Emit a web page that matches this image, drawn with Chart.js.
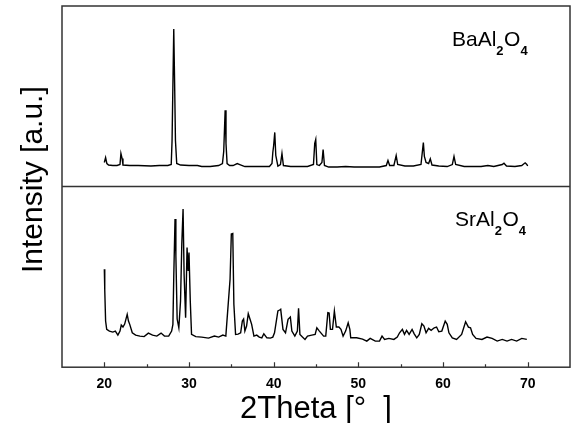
<!DOCTYPE html>
<html>
<head>
<meta charset="utf-8">
<script src="https://cdn.jsdelivr.net/npm/chart.js@4"></script>
<style>
  body { margin: 0; background: #fff; }
  canvas { display: block; }
</style>
</head>
<body>
<canvas id="xrd" width="573" height="423"></canvas>
<script>
// 2Theta positions / intensities (a.u.)
const baTheta = [20.0, 20.15, 20.3, 20.5, 21.0, 21.5, 21.85, 21.96, 22.1, 22.2, 23.0, 24.0, 25.5, 26.5, 27.5, 27.9,
  28.0, 28.2, 28.3, 28.4, 28.55, 29.0, 30.0, 31.0, 31.5, 32.5, 33.5, 33.95, 34.1, 34.27, 34.37, 34.5, 34.8, 35.2,
  35.7, 36.0, 36.3, 36.6, 37.5, 38.5, 39.5, 39.8, 39.9, 40.0, 40.13, 40.25, 40.5, 40.8, 40.98, 41.15, 42.0, 43.0,
  44.0, 44.7, 44.85, 44.97, 45.1, 45.4, 45.7, 45.84, 46.0, 46.5, 47.5, 48.5, 49.5, 50.5, 51.5, 52.5, 53.3, 53.5,
  53.7, 54.2, 54.47, 54.65, 55.5, 56.5, 57.4, 57.68, 57.8, 58.0, 58.3, 58.5, 58.7, 59.5, 60.5, 61.1, 61.3, 61.5,
  62.5, 63.5, 64.5, 65.3, 66.0, 67.0, 67.2, 67.5, 68.5, 69.3, 69.7, 69.9, 70.0];
const baCounts = [24, 29, 23, 21.5, 21, 21, 22, 33, 28, 21.5, 21, 21, 20.5, 21, 21, 22,
  46, 157, 104, 46, 23, 21.5, 21, 21, 20, 20, 21, 23, 35, 76, 43, 23, 21, 21,
  23, 22, 21, 20, 20, 20, 20, 23, 34, 41, 54, 31, 20.5, 22, 33, 21, 20, 20,
  20, 22, 43, 47, 22, 21, 24, 37, 21, 19.5, 19.5, 20, 19.5, 19.5, 19.5, 19.5, 21, 26,
  21, 21, 31, 22, 20.5, 20.5, 22, 44, 30, 24, 23, 27.7, 21.5, 20.5, 20, 22, 30, 22,
  20, 20, 20, 21, 20, 22, 23.3, 20.5, 20, 21, 23.7, 22, 20.5];

const srTheta = [20.0, 20.05, 20.15, 20.28, 20.6, 21.0, 21.3, 21.6, 21.85, 22.0, 22.2, 22.4, 22.7, 22.85, 23.0,
  23.3, 23.7, 24.2, 24.7, 25.2, 25.7, 26.2, 26.7, 27.1, 27.6, 27.95, 28.1, 28.2, 28.35, 28.45, 28.6, 28.8, 29.0,
  29.15, 29.3, 29.42, 29.6, 29.77, 29.9, 30.0, 30.15, 30.3, 30.8, 31.5, 32.3, 33.0, 33.5, 34.0, 34.35, 34.54,
  34.85, 35.0, 35.17, 35.3, 35.5, 35.8, 36.1, 36.3, 36.45, 36.6, 36.8, 37.0, 37.2, 37.4, 37.67, 38.0, 38.3, 38.6,
  38.84, 39.2, 39.6, 39.9, 40.1, 40.5, 40.7, 40.83, 41.1, 41.4, 41.7, 41.97, 42.15, 42.5, 42.8, 42.94, 43.1, 43.4,
  43.7, 44.0, 44.5, 44.9, 45.1, 45.4, 45.9, 46.15, 46.4, 46.55, 46.7, 46.95, 47.17, 47.4, 47.7, 47.95, 48.2, 48.5,
  48.8, 49.0, 49.1, 49.8, 50.5, 51.0, 51.4, 52.0, 52.5, 52.8, 53.1, 53.6, 54.2, 54.6, 54.87, 55.2, 55.45, 55.7,
  56.0, 56.35, 56.6, 56.9, 57.2, 57.5, 57.75, 58.0, 58.3, 58.6, 58.97, 59.24, 59.5, 59.86, 60.26, 60.5, 60.7,
  61.1, 61.6, 62.2, 62.67, 63.0, 63.25, 63.5, 63.9, 64.6, 65.2, 65.8, 66.4, 67.0, 67.56, 68.1, 68.7, 69.3, 69.9];
const srCounts = [97.7, 77, 46, 37.7, 36, 35, 36, 32, 36, 42, 40, 43, 52.7, 46, 42.7,
  34.3, 32, 31, 30.5, 34, 32, 31, 34, 31, 31, 36, 42.7, 90, 147.7, 111, 48, 39.3, 66,
  122.7, 157.7, 92.7, 49.3, 119.3, 96, 114.3, 66, 32.7, 30.5, 30, 29, 31, 30, 32, 31, 52.7,
  87.7, 132.7, 133.3, 62.7, 32.7, 33, 34.3, 46, 48, 36, 41, 53.3, 48, 42.7, 31, 32, 30, 29.3,
  33.3, 29.3, 29, 30, 34.3, 56, 57, 57.7, 37.7, 34.3, 47.7, 50, 36, 31, 36, 58.7, 32.7, 30,
  27.7, 31, 32, 32.7, 39.3, 36, 31, 31, 54.3, 54, 37.7, 37.7, 56, 40, 40, 37.7, 31, 36,
  44.3, 37.7, 29.3, 29.3, 28, 26, 28.7, 26, 26, 31, 27.7, 28.7, 27.7, 30, 34.3, 37.7, 32.7, 36.7,
  32.7, 37.7, 33.3, 29.3, 32.7, 43.3, 41, 34.3, 38.7, 36.7, 39.3, 40, 35.3, 36, 46, 42.7, 34.3,
  29.3, 27.7, 32.7, 45.3, 40, 39.3, 32.7, 28.7, 27.7, 30, 28.7, 26, 27.7, 26, 27.7, 26, 28.7, 27.7];

// axis ticks
const thetaTicks = [20, 30, 40, 50, 60, 70];
const minorTicks = [25, 35, 45, 55, 65];

const toPoints = (xs, ys) => xs.map((x, i) => ({ x: x, y: ys[i] }));

// frame, panel divider, inward ticks, sample names
const framePlugin = {
    id: 'frame',
    afterDraw(chart) {
        const ctx = chart.ctx;
        const area = chart.chartArea;
        const x = chart.scales.x;
        const split = chart.scales.yTop.bottom;

        ctx.save();
        ctx.strokeStyle = '#333';
        ctx.lineWidth = 1.5;
        ctx.strokeRect(area.left, area.top, area.right - area.left, area.bottom - area.top);
        ctx.beginPath();
        ctx.moveTo(area.left, split);
        ctx.lineTo(area.right, split);
        ctx.stroke();

        // inward ticks on the bottom axis
        ctx.lineWidth = 1.2;
        ctx.beginPath();
        thetaTicks.forEach(v => {
            const px = Math.round(x.getPixelForValue(v)) + 0.5;
            ctx.moveTo(px, area.bottom);
            ctx.lineTo(px, area.bottom - 5);
        });
        minorTicks.forEach(v => {
            const px = Math.round(x.getPixelForValue(v)) + 0.5;
            ctx.moveTo(px, area.bottom);
            ctx.lineTo(px, area.bottom - 3);
        });
        ctx.stroke();

        // sample names with subscripts
        const formula = (parts, left, base) => {
            let cx = left;
            parts.forEach(p => {
                ctx.font = p.sub ? 'bold 13px "Liberation Sans", Arial, sans-serif' : '21px "Liberation Sans", Arial, sans-serif';
                ctx.fillText(p.t, cx, p.sub ? base + 9 : base);
                cx += ctx.measureText(p.t).width + (p.sub ? 0.5 : 0);
            });
        };
        ctx.fillStyle = '#000';
        ctx.textAlign = 'left';
        ctx.textBaseline = 'alphabetic';
        formula([{ t: 'BaAl' }, { t: '2', sub: true }, { t: 'O' }, { t: '4', sub: true }], area.right - 118, area.top + 40);
        formula([{ t: 'SrAl' }, { t: '2', sub: true }, { t: 'O' }, { t: '4', sub: true }], area.right - 115, split + 39);

        // y axis title across both panels
        ctx.translate(42, (area.top + area.bottom) / 2 - 7);
        ctx.rotate(-Math.PI / 2);
        ctx.textAlign = 'center';
        ctx.font = '30px "Liberation Sans", Arial, sans-serif';
        ctx.fillText('Intensity [a.u.]', 0, 0);
        ctx.restore();
    }
};

new Chart(document.getElementById('xrd'), {
    type: 'line',
    data: {
        datasets: [
            {
                label: 'BaAl2O4',
                data: toPoints(baTheta, baCounts),
                yAxisID: 'yTop',
                borderColor: '#000',
                borderWidth: 1.4,
                pointRadius: 0,
                tension: 0
            },
            {
                label: 'SrAl2O4',
                data: toPoints(srTheta, srCounts),
                yAxisID: 'yBot',
                borderColor: '#000',
                borderWidth: 1.4,
                pointRadius: 0,
                tension: 0
            }
        ]
    },
    options: {
        responsive: false,
        animation: false,
        layout: { padding: { left: 62, top: 6, right: 3, bottom: -2 } },
        plugins: {
            legend: { display: false },
            tooltip: { enabled: false }
        },
        scales: {
            x: {
                type: 'linear',
                min: 15,
                max: 75,
                afterBuildTicks: axis => {
                    axis.ticks = thetaTicks.map(v => ({ value: v }));
                },
                grid: { display: false, drawTicks: false },
                border: { display: false },
                ticks: {
                    color: '#000',
                    padding: 9,
                    maxRotation: 0,
                    autoSkip: false,
                    font: { family: '"Liberation Sans", Arial, sans-serif', size: 14, weight: 'bold' }
                },
                title: {
                    display: true,
                    text: '2Theta [°  ]',
                    color: '#000',
                    padding: { top: -8, bottom: 0 },
                    font: { family: '"Liberation Sans", Arial, sans-serif', size: 31, lineHeight: 1 }
                }
            },
            // in a stack the later axis is drawn on top
            yBot: {
                type: 'linear',
                position: 'left',
                stack: 'panels',
                stackWeight: 1,
                min: 0,
                max: 180,
                grid: { display: false, drawTicks: false },
                border: { display: false },
                ticks: { display: false }
            },
            yTop: {
                type: 'linear',
                position: 'left',
                stack: 'panels',
                stackWeight: 1,
                min: 0,
                max: 180,
                grid: { display: false, drawTicks: false },
                border: { display: false },
                ticks: { display: false }
            }
        }
    },
    plugins: [framePlugin]
});
</script>
</body>
</html>
